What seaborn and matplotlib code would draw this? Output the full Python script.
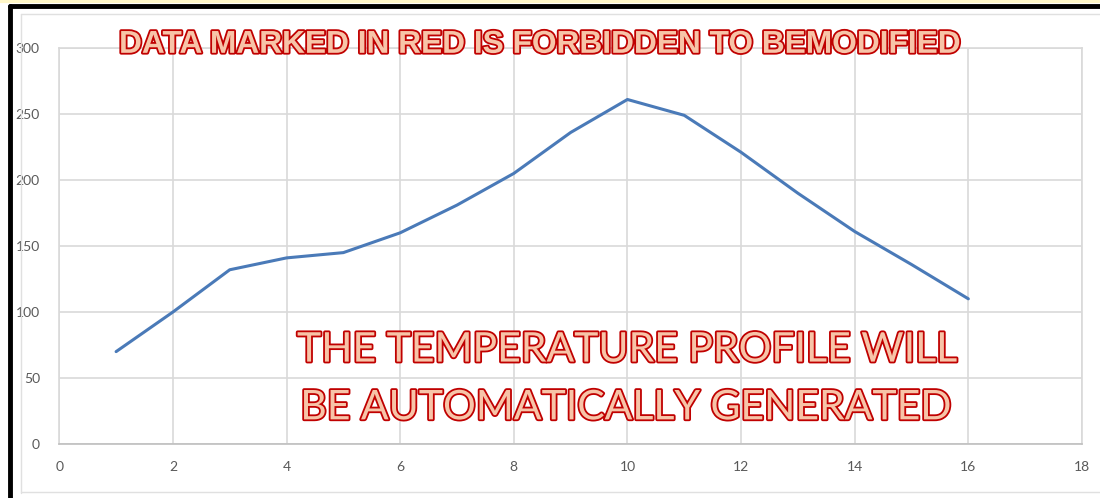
import matplotlib
matplotlib.use('Agg')
import matplotlib.pyplot as plt
import matplotlib.patheffects as pe
import pandas as pd
import seaborn as sns

# Values
step = [1, 2, 3, 4, 5, 6, 7, 8, 9, 10, 11, 12, 13, 14, 15, 16]
temperature = [70, 100, 132, 141, 145, 160, 181, 205, 236, 261, 249, 221, 190, 161, 136, 110]
x_ticks = [0, 2, 4, 6, 8, 10, 12, 14, 16, 18]
y_ticks = [0, 50, 100, 150, 200, 250, 300]

data = pd.DataFrame({'step': step, 'temperature': temperature})

sns.set_style('white')
fig = plt.figure(figsize=(11, 4.98), dpi=100)
ax = fig.add_axes([0.0539, 0.1084, 0.9297, 0.7952])

sns.lineplot(data=data, x='step', y='temperature', ax=ax, color='#4a7ab8',
             linewidth=2.2, solid_joinstyle='round', solid_capstyle='round')

ax.set_xlim(0, 18)
ax.set_ylim(0, 300)
ax.set_xticks(x_ticks)
ax.set_yticks(y_ticks)
ax.grid(True, color='#d9d9d9', linewidth=1.2)
ax.set_axisbelow(True)
for s in ax.spines.values():
    s.set_color('#d9d9d9')
    s.set_linewidth(1.2)
ax.spines['bottom'].set_color('#bfbfbf')
ax.tick_params(length=0, labelsize=10, labelcolor='#595959')
ax.tick_params(axis='y', pad=14)
ax.tick_params(axis='x', pad=12)
for lab in ax.get_xticklabels() + ax.get_yticklabels():
    lab.set_family('Lato')
ax.set_xlabel('')
ax.set_ylabel('')

# spreadsheet frame around the chart
fig.add_artist(plt.Line2D([0, 1], [0.997, 0.997], transform=fig.transFigure, color='#fff7c8', lw=3))
fig.add_artist(plt.Line2D([0.009, 1], [0.988, 0.988], transform=fig.transFigure, color='black', lw=3.5))
fig.add_artist(plt.Line2D([0.009, 0.009], [0, 0.988], transform=fig.transFigure, color='black', lw=3.5))
fig.add_artist(plt.Line2D([0.019, 0.019], [0.01, 0.972], transform=fig.transFigure, color='#e0e0e0', lw=1))
fig.add_artist(plt.Line2D([0.019, 1], [0.972, 0.972], transform=fig.transFigure, color='#e0e0e0', lw=1))
fig.add_artist(plt.Line2D([0.019, 1], [0.012, 0.012], transform=fig.transFigure, color='#e0e0e0', lw=1))

outline = [pe.withStroke(linewidth=2.6, foreground='#c00000')]
fig.text(0.4905, 0.91, 'DATA MARKED IN RED IS FORBIDDEN TO BEMODIFIED', ha='center', va='center',
         fontsize=22.8, fontweight='bold', family='Liberation Sans', color='#f7c4a8', path_effects=outline)
fig.text(0.270, 0.297, 'THE TEMPERATURE PROFILE WILL', ha='left', va='center',
         fontsize=29.5, family='Lato', color='#f7c4a8', path_effects=outline)
fig.text(0.273, 0.181, 'BE AUTOMATICALLY GENERATED', ha='left', va='center',
         fontsize=29.5, family='Lato', color='#f7c4a8', path_effects=outline)

fig.savefig('out.png', dpi=100)
